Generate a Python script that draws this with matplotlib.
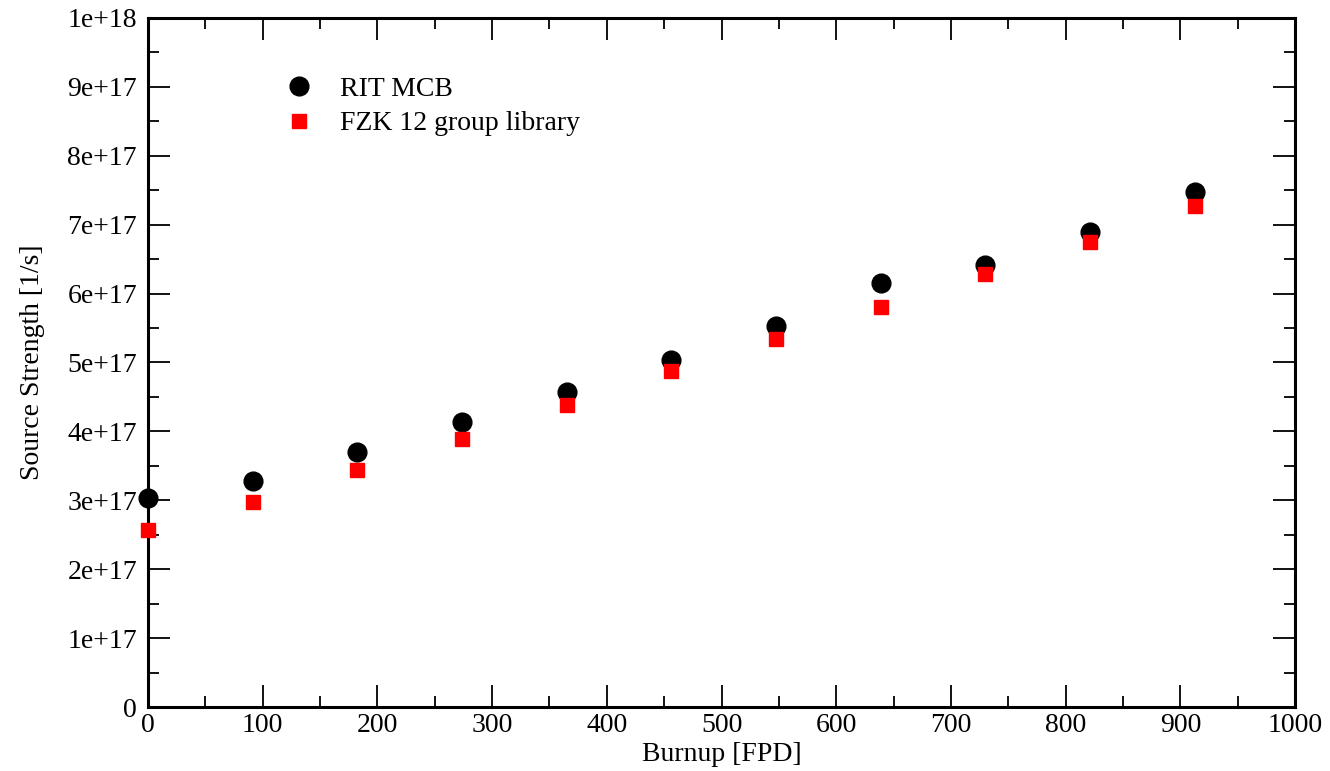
import numpy as np
import matplotlib.pyplot as plt
from matplotlib.ticker import MultipleLocator

# Burnup (full power days) and source strength (1/s)
burnup = [0, 91.25, 182.5, 273.75, 365, 456.25, 547.5, 638.75, 730, 821.25, 912.5]
rit_mcb = [3.03e17, 3.28e17, 3.70e17, 4.14e17, 4.57e17, 5.04e17,
           5.53e17, 6.15e17, 6.42e17, 6.90e17, 7.47e17]
fzk_12g = [2.57e17, 2.98e17, 3.44e17, 3.89e17, 4.38e17, 4.88e17,
           5.34e17, 5.80e17, 6.29e17, 6.75e17, 7.27e17]

plt.rcParams['font.family'] = ['Liberation Serif', 'DejaVu Serif']

fig = plt.figure(figsize=(13.3, 7.71), dpi=100)
ax = fig.add_axes([0.1113, 0.083, 0.8624, 0.8937])

ax.plot(burnup, rit_mcb, 'o', color='black', ms=13.5, label='RIT MCB', clip_on=False, zorder=3)
ax.plot(burnup, fzk_12g, 's', color='red', ms=10.5, mec='red', label='FZK 12 group library',
        clip_on=False, zorder=3)

ax.set_xlim(0, 1000)
ax.set_ylim(0, 1e18)
ax.xaxis.set_major_locator(MultipleLocator(100))
ax.xaxis.set_minor_locator(MultipleLocator(50))
ax.yaxis.set_major_locator(MultipleLocator(1e17))
ax.yaxis.set_minor_locator(MultipleLocator(5e16))

ylabels = ['0'] + ['%de+17' % i for i in range(1, 10)] + ['1e+18']
ax.set_yticks(np.arange(0, 11) * 1e17)
ax.set_yticklabels(ylabels)

ax.tick_params(which='both', direction='in', top=True, right=True, labelsize=20, width=1.3)
ax.tick_params(which='major', length=16)
ax.tick_params(which='minor', length=8)
ax.tick_params(axis='y', pad=8)
ax.tick_params(axis='x', pad=4)
for s in ax.spines.values():
    s.set_linewidth(2.2)

ax.set_xlabel('Burnup [FPD]', fontsize=20, labelpad=3)
ax.set_ylabel('Source Strength [1/s]', fontsize=20, labelpad=16)

ax.legend(loc='upper left', bbox_to_anchor=(0.107, 0.935), frameon=False, fontsize=20,
          handletextpad=1.0, labelspacing=0.32, borderpad=0, handlelength=1.0)

fig.savefig('out.png', dpi=100)
